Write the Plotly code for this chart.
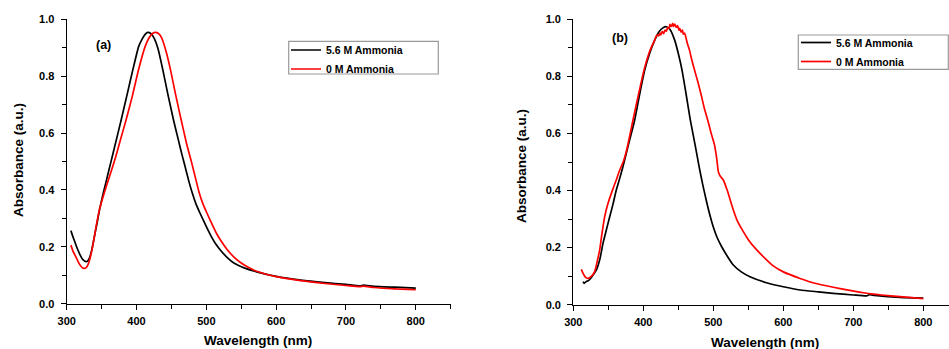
import plotly.graph_objects as go

# ---------------- data: panel (a) ----------------
a_black_x = [306, 309, 312, 315, 318, 321, 324, 327.7, 330, 333, 336, 340, 344, 347, 352, 356, 360.5,
             365, 370, 378, 386, 394.7, 403, 408, 412, 416, 420, 425, 431, 437.7, 445, 453, 460, 465,
             470, 475, 480, 485, 491, 500, 507, 514, 520, 530, 540, 555, 572, 600, 635, 670, 700, 720,
             725, 740, 770, 800]
a_black_y = [0.257, 0.235, 0.215, 0.195, 0.178, 0.163, 0.153, 0.148, 0.150, 0.163, 0.19, 0.24, 0.29,
             0.33, 0.385, 0.425, 0.47, 0.515, 0.565, 0.646, 0.73, 0.822, 0.904, 0.93, 0.946, 0.954, 0.951,
             0.935, 0.895, 0.822, 0.735, 0.646, 0.575, 0.525, 0.478, 0.43, 0.388, 0.352, 0.318, 0.271,
             0.237, 0.208, 0.189, 0.162, 0.142, 0.125, 0.112, 0.096, 0.083, 0.074, 0.068, 0.063, 0.065,
             0.061, 0.058, 0.055]

a_red_x = [306, 309, 312, 315, 318, 321, 324.4, 328, 331, 334, 338, 342, 346.8, 352, 357, 361, 365, 370,
           378, 385, 394, 402.8, 412.3, 418, 423, 427, 431, 436, 442, 448.7, 456, 464, 472, 478, 481.6,
           490, 495, 501, 510, 515, 520, 530, 540, 550, 560, 572, 600, 635, 670, 700, 720, 725, 740,
           770, 800]
a_red_y = [0.206, 0.185, 0.17, 0.155, 0.14, 0.13, 0.124, 0.127, 0.14, 0.165, 0.212, 0.27, 0.33, 0.375,
           0.415, 0.445, 0.475, 0.515, 0.585, 0.646, 0.73, 0.822, 0.904, 0.935, 0.95, 0.954, 0.951, 0.935,
           0.89, 0.822, 0.735, 0.646, 0.56, 0.505, 0.47, 0.388, 0.352, 0.318, 0.27, 0.245, 0.225, 0.19,
           0.163, 0.143, 0.128, 0.114, 0.095, 0.081, 0.071, 0.064, 0.060, 0.062, 0.057, 0.052, 0.049]

# ---------------- data: panel (b) ----------------
b_black_x = [313.9, 315.5, 318, 322, 327, 333, 338, 342.4, 347, 352, 357, 361.4, 366, 371, 378, 387.7,
             395, 402, 409, 416.3, 422, 428, 433, 438, 444.8, 450, 455.3, 461, 467.2, 474, 480, 485, 490,
             495, 500, 505, 512, 520, 528.6, 540, 552.4, 576, 600, 624, 650, 671, 700, 719, 723, 730, 767,
             800]
b_black_y = [0.081, 0.075, 0.08, 0.085, 0.1, 0.122, 0.16, 0.215, 0.26, 0.308, 0.355, 0.402, 0.44, 0.484,
             0.553, 0.647, 0.74, 0.822, 0.88, 0.927, 0.955, 0.97, 0.974, 0.965, 0.927, 0.88, 0.822, 0.74,
             0.647, 0.56, 0.48, 0.42, 0.365, 0.315, 0.272, 0.238, 0.203, 0.17, 0.139, 0.115, 0.098, 0.077,
             0.063, 0.0515, 0.045, 0.040, 0.034, 0.031, 0.035, 0.033, 0.026, 0.023]

b_red_x = [311.4, 315, 318, 321, 326, 330.5, 334, 337.7, 341, 344.8, 349, 354.3, 358, 361.4, 365, 368.6,
           372, 377, 385.3, 393, 401, 408, 412, 416.3, 418, 420, 422, 424, 425, 427, 429, 431, 433, 435,
           437, 438, 440, 442, 443, 445, 447, 449, 451, 452, 454, 456, 457, 459, 461.3, 463, 466, 469,
           473.2, 478, 482.7, 487, 492, 497, 501.7, 505, 507.2, 510, 514.3, 520, 528.6, 535, 542.9, 550,
           562, 575, 585.7, 600, 624, 645, 671.4, 695, 719, 725, 740, 766.7, 800]
b_red_y = [0.124, 0.105, 0.095, 0.092, 0.1, 0.116, 0.15, 0.192, 0.25, 0.308, 0.35, 0.39, 0.415, 0.437,
           0.463, 0.485, 0.505, 0.55, 0.647, 0.735, 0.822, 0.88, 0.905, 0.927, 0.939, 0.945, 0.942, 0.952,
           0.945, 0.958, 0.95, 0.962, 0.958, 0.972, 0.968, 0.982, 0.975, 0.986, 0.975, 0.983, 0.972,
           0.978, 0.962, 0.968, 0.955, 0.962, 0.948, 0.952, 0.932, 0.915, 0.892, 0.86, 0.822, 0.78,
           0.735, 0.69, 0.647, 0.6, 0.56, 0.51, 0.466, 0.45, 0.437, 0.4, 0.332, 0.29, 0.256, 0.228,
           0.192, 0.16, 0.136, 0.115, 0.092, 0.075, 0.061, 0.05, 0.040, 0.038, 0.034, 0.028, 0.021]

series_names = ["5.6 M Ammonia", "0 M Ammonia"]
panel_labels = ["(a)", "(b)"]
x_title = "Wavelength (nm)"
y_title = "Absorbance (a.u.)"

FONT = "Liberation Sans, Arial, sans-serif"
BLACK = "#000000"
RED = "#ff0000"
W, H = 949, 349

fig = go.Figure()
traces = [
    (a_black_x, a_black_y, BLACK, series_names[0], "x", "y", "legend"),
    (a_red_x, a_red_y, RED, series_names[1], "x", "y", "legend"),
    (b_black_x, b_black_y, BLACK, series_names[0], "x2", "y2", "legend2"),
    (b_red_x, b_red_y, RED, series_names[1], "x2", "y2", "legend2"),
]
for xs, ys, col, name, xa, ya, lg in traces:
    fig.add_trace(go.Scatter(x=xs, y=ys, mode="lines", name=name, xaxis=xa, yaxis=ya, legend=lg,
                             line=dict(color=col, width=1.7, shape="spline", smoothing=0.5)))

tickfont = dict(family=FONT, size=11, color="black", weight="bold")

def xax(domain, rng, anchor):
    return dict(domain=domain, range=rng, anchor=anchor, showgrid=False, zeroline=False,
                automargin=False,
                showline=True, linecolor="black", linewidth=1.3, ticks="outside", ticklen=5,
                tickwidth=1.2, tickcolor="black", tickmode="linear", tick0=300, dtick=100,
                tickfont=tickfont, ticklabelstandoff=2,
                minor=dict(ticks="outside", dtick=50, tick0=300, ticklen=4, tickwidth=1.2,
                           tickcolor="black", showgrid=False))

def yax(domain, anchor):
    return dict(domain=domain, range=[0, 1.0], anchor=anchor, showgrid=False, zeroline=False,
                automargin=False,
                showline=True, linecolor="black", linewidth=1.3, ticks="outside", ticklen=5,
                tickwidth=1.2, tickcolor="black", tickmode="linear", tick0=0, dtick=0.2,
                tickformat=".1f", tickfont=tickfont, ticklabelstandoff=4,
                minor=dict(ticks="outside", dtick=0.1, tick0=0, ticklen=4, tickwidth=1.2,
                           tickcolor="black", showgrid=False))

leg_common = dict(bgcolor="rgba(0,0,0,0)", borderwidth=0, xanchor="left",
                  yanchor="top", font=dict(family=FONT, size=10.5, color="black", weight="bold"),
                  tracegroupgap=0, itemwidth=30)

fig.update_layout(
    template="none",
    width=W, height=H, autosize=False,
    margin=dict(l=0, r=0, t=0, b=0, pad=0),
    paper_bgcolor="white", plot_bgcolor="white",
    xaxis=xax([66.7 / W, 450.7 / W], [300, 850], "y"),
    yaxis=yax([1 - 303.7 / H, 1 - 19.3 / H], "x"),
    xaxis2=xax([573.3 / W, 1.0], [300, 300 + (W - 573.3) / 0.70], "y2"),
    yaxis2=yax([1 - 304.7 / H, 1 - 19.3 / H], "x2"),
    legend=dict(x=286 / W, y=1 - 35.5 / H, **leg_common),
    legend2=dict(x=796 / W, y=1 - 28 / H, **leg_common),
    showlegend=True,
)

# legend frames (decoration)
for (x0, x1, y0, y1) in [(288.7, 438.3, 41.3, 74.0), (798.3, 948.3, 35.0, 69.3)]:
    fig.add_shape(type="rect", xref="paper", yref="paper", x0=x0 / W, x1=x1 / W,
                  y0=1 - y1 / H, y1=1 - y0 / H, line=dict(color="#9a9a9a", width=1.2),
                  fillcolor="white", layer="above")

ann_font_t = dict(family=FONT, size=13.5, color="black", weight="bold")
annos = [
    dict(text=panel_labels[0], x=103.3 / W, y=1 - 44.7 / H, font=dict(family=FONT, size=12.5, color="black", weight="bold")),
    dict(text=panel_labels[1], x=619.7 / W, y=1 - 37.7 / H, font=dict(family=FONT, size=12.5, color="black", weight="bold")),
    dict(text=x_title, x=258 / W, y=1 - 340 / H, font=ann_font_t),
    dict(text=x_title, x=765 / W, y=1 - 342 / H, font=ann_font_t),
    dict(text=y_title, x=18 / W, y=1 - 160 / H, textangle=-90, font=ann_font_t),
    dict(text=y_title, x=522 / W, y=1 - 166 / H, textangle=-90, font=ann_font_t),
]
for a in annos:
    fig.add_annotation(xref="paper", yref="paper", xanchor="center", yanchor="middle",
                       showarrow=False, **a)

fig.write_html("out.html")
